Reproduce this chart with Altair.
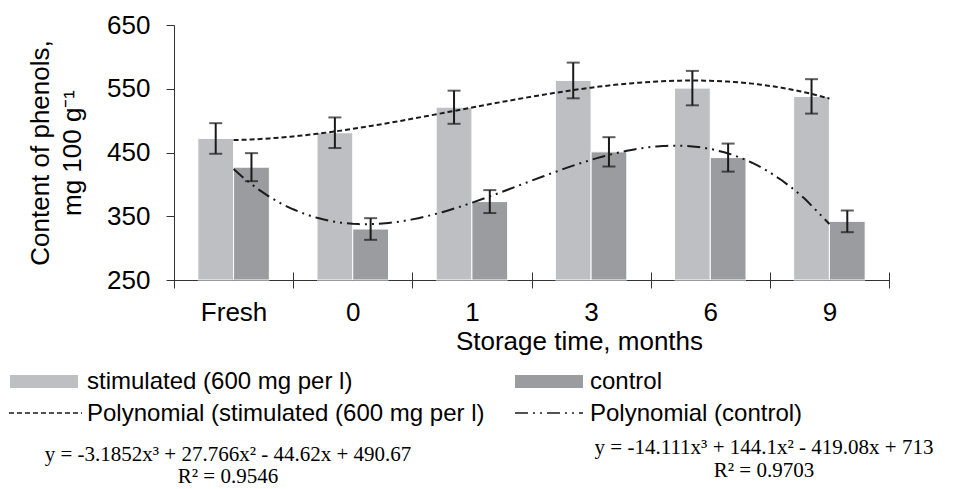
import altair as alt
import pandas as pd

categories = ["Fresh", "0", "1", "3", "6", "9"]
stimulated = [472, 481, 521, 563, 551, 538]
stimulated_err = [24, 24, 26, 28, 27, 27]
control = [427, 330, 373, 451, 442, 342]
control_err = [22, 17, 18, 23, 22, 17]
series_names = ["stimulated (600 mg per l)", "control"]
y_ticks = [250, 350, 450, 550, 650]
band_edges = [0.5, 1.5, 2.5, 3.5, 4.5, 5.5, 6.5]
legend_labels = ["stimulated (600 mg per l)", "control",
                 "Polynomial (stimulated (600 mg per l)", "Polynomial (control)"]
equations = ["y = -3.1852x³ + 27.766x² - 44.62x + 490.67", "R² = 0.9546",
             "y = -14.111x³ + 144.1x² - 419.08x + 713", "R² = 0.9703"]

rows = []
for i, c in enumerate(categories):
    rows.append(dict(cat=c, idx=i + 1, series=series_names[0], value=stimulated[i], err=stimulated_err[i]))
    rows.append(dict(cat=c, idx=i + 1, series=series_names[1], value=control[i], err=control_err[i]))
df = pd.DataFrame(rows)

W, H = 715, 255
STIM = "#bebfc3"
CTRL = "#9b9ca0"
INK = "#1a1a1a"
AXIS = "#333333"
SANS = "Liberation Sans"
SERIF = "Liberation Serif"
DASH_STIM = [5, 3]
DASH_CTRL = [13, 5, 2, 5, 2, 5]

xband = alt.Scale(domain=categories, paddingInner=0.4, paddingOuter=0.2)
xoff = alt.XOffset("series:N", sort=series_names,
                   scale=alt.Scale(domain=series_names, paddingInner=0, paddingOuter=0))
yscale = alt.Scale(domain=[250, 650], nice=False, zero=False)
xq_scale = alt.Scale(domain=[0.5, 6.5], nice=False, zero=False)

base = alt.Chart(df)

bars = base.mark_bar(stroke="white", strokeWidth=1).encode(
    x=alt.X("cat:N", sort=categories, scale=xband,
            axis=alt.Axis(title="Storage time, months", labelAngle=0, labelFontSize=26,
                          titleFontSize=26, titleFontWeight="normal", labelColor="black",
                          titleColor="black", domainColor=AXIS, tickOpacity=0,
                          tickSize=8, labelPadding=11, tickBand="extent", orient="bottom",
                          titleX=405, titleY=48, titleBaseline="top",
                          labelFont=SANS, titleFont=SANS)),
    xOffset=xoff,
    y=alt.Y("value:Q", scale=yscale,
            axis=alt.Axis(values=y_ticks, title=["Content of phenols,", "mg 100 g⁻¹"],
                          labelFontSize=26, titleFontSize=26, titleFontWeight="normal",
                          titleLineHeight=32, labelColor="black", titleColor="black",
                          domainColor=AXIS, tickColor=AXIS, tickSize=8,
                          labelPadding=16, titlePadding=21, grid=False,
                          labelFont=SANS, titleFont=SANS)),
    y2=alt.Y2(datum=250),
    color=alt.Color("series:N", scale=alt.Scale(domain=series_names, range=[STIM, CTRL]), legend=None),
)

err_base = base.transform_calculate(lo="datum.value - datum.err", hi="datum.value + datum.err")
err_rule = err_base.mark_rule(color=INK, strokeWidth=2).encode(
    x=alt.X("cat:N", sort=categories), xOffset=xoff,
    y=alt.Y("lo:Q"), y2="hi:Q")
cap_lo = err_base.mark_tick(color=INK, thickness=2, size=13).encode(
    x=alt.X("cat:N", sort=categories), xOffset=xoff, y=alt.Y("lo:Q"))
cap_hi = err_base.mark_tick(color=INK, thickness=2, size=13).encode(
    x=alt.X("cat:N", sort=categories), xOffset=xoff, y=alt.Y("hi:Q"))

bar_group = alt.layer(bars, err_rule, cap_lo, cap_hi)

trend = base.transform_regression("idx", "value", method="poly", order=3,
                                  groupby=["series"], extent=[1, 6])
xq = alt.X("idx:Q", scale=xq_scale, axis=None)
line_stim = trend.transform_filter(alt.datum.series == series_names[0]).mark_line(
    color=INK, strokeWidth=2, strokeDash=DASH_STIM).encode(x=xq, y=alt.Y("value:Q"))
line_ctrl = trend.transform_filter(alt.datum.series == series_names[1]).mark_line(
    color=INK, strokeWidth=2, strokeDash=DASH_CTRL).encode(x=xq, y=alt.Y("value:Q"))
line_group = alt.layer(line_stim, line_ctrl)

# invisible layer that only carries the crossing category ticks of the x axis
tick_axis = base.mark_point(opacity=0).encode(
    x=alt.X("idx:Q", scale=xq_scale,
            axis=alt.Axis(values=band_edges, labels=False, title=None, domain=False,
                          grid=False, tickSize=16, offset=-8, tickColor=AXIS,
                          orient="bottom")),
    y=alt.Y("value:Q"))


def label(txt, x, y, size=24, font=SANS, align="left"):
    return alt.Chart(pd.DataFrame({"t": [txt]})).mark_text(
        align=align, baseline="middle", fontSize=size, font=font, color="black").encode(
        x=alt.value(x), y=alt.value(y), text="t:N")


one = pd.DataFrame({"k": [0]})
R1, R2 = 356, 388
leg_rect_stim = alt.Chart(one).mark_rect(color=STIM).encode(
    x=alt.value(-164), x2=alt.value(-96), y=alt.value(R1 - 6), y2=alt.value(R1 + 7))
leg_rect_ctrl = alt.Chart(one).mark_rect(color=CTRL).encode(
    x=alt.value(341), x2=alt.value(409), y=alt.value(R1 - 6), y2=alt.value(R1 + 7))
leg_line_stim = alt.Chart(one).mark_rule(color=INK, strokeWidth=1.5, strokeDash=DASH_STIM).encode(
    x=alt.value(-165), x2=alt.value(-92), y=alt.value(R2))
leg_line_ctrl = alt.Chart(one).mark_rule(color=INK, strokeWidth=1.5, strokeDash=DASH_CTRL).encode(
    x=alt.value(341), x2=alt.value(409), y=alt.value(R2))

texts = [
    label(legend_labels[0], -87, R1 + 1),
    label(legend_labels[1], 416, R1 + 1),
    label(legend_labels[2], -87, R2 + 1),
    label(legend_labels[3], 416, R2 + 1),
    label(equations[0], 54, 430, size=21, font=SERIF, align="center"),
    label(equations[1], 54, 452, size=21, font=SERIF, align="center"),
    label(equations[2], 590, 423, size=21, font=SERIF, align="center"),
    label(equations[3], 590, 446, size=21, font=SERIF, align="center"),
]

chart = alt.layer(
    bar_group, line_group, tick_axis, leg_rect_stim, leg_rect_ctrl, leg_line_stim, leg_line_ctrl, *texts
).resolve_scale(x="independent").properties(
    width=W, height=H,
    autosize=alt.AutoSizeParams(type="none"),
    padding={"left": 166, "top": 17, "right": 83, "bottom": 209},
).configure(font=SANS).configure_view(strokeWidth=0, stroke="transparent")

chart.save("out.html", embed_options={"renderer": "svg", "actions": False})
